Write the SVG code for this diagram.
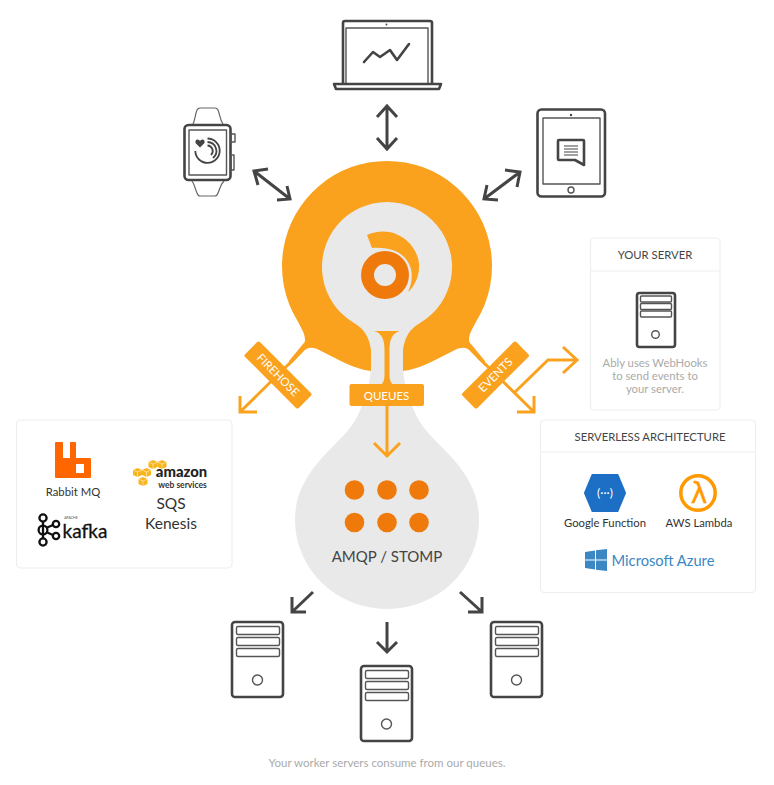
<svg xmlns="http://www.w3.org/2000/svg" width="774" height="785" viewBox="0 0 774 785">
<style>
text{font-family:"Lato","Noto Sans",sans-serif;text-anchor:middle}
.dk{fill:none;stroke:#444;stroke-width:2.6;stroke-linejoin:round;stroke-linecap:round}
.th{fill:none;stroke:#555;stroke-width:1.4;stroke-linejoin:round}
.ar{fill:none;stroke:#444;stroke-width:3}
.oa{fill:none;stroke:#faa21e;stroke-width:3}
.card{fill:#fff;stroke:#eee;stroke-width:1.2}
.bar{fill:#faa21e}
.bt{fill:#fff;font-size:11.500px}
.gr{fill:#aaa;font-size:11.300px}
.hd{fill:#444;font-size:11.300px}
.lb{fill:#333;font-size:11.300px}
</style>
<defs>
<g id="srv">
<rect x="1" y="1" width="51" height="75" rx="3" class="dk"/>
<rect x="5.500" y="5.500" width="43" height="8" rx="1.500" class="th"/>
<rect x="5.500" y="16.500" width="43" height="8" rx="1.500" class="th"/>
<rect x="5.500" y="27.500" width="43" height="8" rx="1.500" class="th"/>
<circle cx="26.500" cy="59" r="5" class="th"/>
</g>
<g id="cube">
<path d="M0 2L4.500 0L9 2V7L4.500 9L0 7Z" fill="#f8b51e"/>
<path d="M0 2L4.500 4L9 2M4.500 4V9" fill="none" stroke="#fff" stroke-width=".5"/>
</g>
</defs>
<rect width="774" height="785" fill="#fff"/>
<g id="blob">
<path d="M295 520C295 495 305 478 320 460C335 443 350 432 358 415C365 400 370 385 371 368L403 368C404 385 409 400 416 415C424 432 439 443 454 460C469 478 479 495 479 520A92 89 0 0 1 295 520Z" fill="#e9e9e9"/>
<path d="M297 320A105 105 0 1 1 477 320C473 328 469 333 469 340C469 342 470 343 471 344L485 361L485 366L471 352C466 346 460 347 451 352C435 360 420 369 403 371L371 371C354 369 339 360 323 352C314 347 308 346 303 352L289 366L289 361L303 344C304 343 305 342 305 340C305 333 301 328 297 320Z" fill="#faa21e"/>
<path d="M354 323A65 65 0 1 1 420 323C410 329 405 336 403 350L403 372L371 372L371 350C369 336 364 329 354 323Z" fill="#e9e9e9"/>
<path d="M374 331H400C392 333 389.500 340 389.500 350V375C389.500 380 391 383 393 385H381C383 383 384.500 380 384.500 375V350C384.500 340 382 333 374 331Z" fill="#faa21e"/>
</g>
<g id="logo">
<path fill-rule="evenodd" d="M385 251A24 24 0 1 1 385 299A24 24 0 1 1 385 251ZM385 264A11 11 0 1 0 385 286A11 11 0 1 0 385 264Z" fill="#ef7a0b"/>
<path d="M367 235C376 231 388 230 398 235C412 241 420 256 419 268C419 277 414 287 408 292C413 281 413 270 408 262C402 252 390 247 372 248Z" fill="#faa21e"/>
</g>
<g id="connectors">
<path d="M387 106V149M377 117L387 106L397 117M377 138L387 149L397 138" class="ar"/>
<path d="M254 171L290 199M268 169L254 171L258 185M277 200L290 199L287 186" class="ar"/>
<path d="M520 172L484 199M505 170L520 172L517 187M498 200L484 199L487 185" class="ar"/>
<path d="M313 592L292 612M292 597L292 612L306 612" class="ar"/>
<path d="M387 622V652M377 642L387 652L397 642" class="ar"/>
<path d="M460 592L482 612M482 597L482 612L468 612" class="ar"/>
<path d="M296 357L240 412M240 396V412H257" class="oa"/>
<path d="M478 357L534 412M534 396V412H517" class="oa"/>
<path d="M515 392L548 360H577M563 347L577 360L563 373" class="oa"/>
<path d="M387 405V456M374 443L387 456L400 443" class="oa"/>
</g>
<g id="laptop">
<path d="M343 83V23Q343 21 345 21H430Q432 21 432 23V83" class="dk"/>
<path d="M346 83V28H428V83" class="th"/>
<circle cx="386.500" cy="24.500" r="0.900" fill="#444"/>
<path d="M334 84H441L439 89H336Z" class="dk"/>
<path d="M364 62L373 52L380 57L390 50L397 60L409 44" class="dk" stroke-width="2"/>
</g>
<g id="watch">
<rect x="184.500" y="125" width="46" height="55" rx="4" class="dk"/>
<rect x="189" y="130" width="37.500" height="45" class="th"/>
<path d="M193 124C195 120 195 115 197 110Q198 108 200 108H215Q217 108 218 110C220 115 220 120 223 124M192 181C195 185 195 189 197 193Q198 196 200 196H215Q217 196 218 193C220 189 220 185 224 181" fill="none" stroke="#666" stroke-width="1.200"/>
<rect x="231" y="134" width="4" height="8" class="th"/>
<rect x="231" y="155" width="3" height="15" class="th"/>
<path d="M200 147.500L195.500 143Q195 139.500 197.500 139.500Q199.500 139.500 200 141Q200.500 139.500 202.500 139.500Q205 139.500 204.500 143Z" fill="#444"/>
<path d="M195.300 151A12.200 12.200 0 1 0 207.500 138.500M207.500 142A9 9 0 0 1 213 158M207.500 145.500A5.500 5.500 0 0 1 211 155" fill="none" stroke="#444" stroke-width="1.800"/>
</g>
<g id="tablet">
<rect x="537.500" y="109.500" width="67.500" height="87" rx="4" class="dk"/>
<rect x="543" y="118" width="57" height="66" class="th"/>
<circle cx="571" cy="115" r="1.200" fill="#444"/>
<circle cx="571" cy="190" r="3" class="th"/>
<path d="M558 141Q558 140 559 140H583Q584 140 584 141V165L575 160H559Q558 160 558 159Z" class="dk" stroke-width="2"/>
<path d="M564 146H578M564 149H578M564 152H578M564 155H578" fill="none" stroke="#444" stroke-width="1.200"/>
</g>
<g id="firehose">
<rect x="240" y="364.500" width="76" height="21" rx="2" class="bar" transform="rotate(45 278 375)"/>
<text x="278" y="379" class="bt" transform="rotate(45 278 375)">FIREHOSE</text>
</g>
<g id="events">
<rect x="457.500" y="364.500" width="76" height="21" rx="2" class="bar" transform="rotate(-45 495.500 375)"/>
<text x="495.500" y="379" class="bt" transform="rotate(-45 495.500 375)">EVENTS</text>
</g>
<g id="queues">
<rect x="349.500" y="384" width="74.500" height="22" rx="2" class="bar"/>
<text x="386.500" y="399.500" class="bt">QUEUES</text>
</g>
<g id="amqp">
<g fill="#ef7a0b">
<circle cx="354.500" cy="490" r="9.800"/><circle cx="387" cy="490" r="9.800"/><circle cx="419" cy="490" r="9.800"/>
<circle cx="354.500" cy="522.500" r="9.800"/><circle cx="387" cy="522.500" r="9.800"/><circle cx="419" cy="522.500" r="9.800"/>
</g>
<text x="387" y="562" fill="#444" font-size="15">AMQP / STOMP</text>
</g>
<g id="your-server">
<rect x="590.500" y="238" width="129.500" height="172" rx="4" class="card"/>
<path d="M591 271H720" stroke="#eee" fill="none"/>
<text x="655" y="259" class="hd">YOUR SERVER</text>
<rect x="637" y="293" width="38" height="54" rx="2.500" class="dk"/>
<rect x="640.500" y="296" width="31" height="6" rx="1" class="th"/>
<rect x="640.500" y="303.500" width="31" height="6" rx="1" class="th"/>
<rect x="640.500" y="311" width="31" height="6" rx="1" class="th"/>
<circle cx="655.500" cy="334.500" r="3.800" class="th"/>
<text x="655" y="367" class="gr">Ably uses WebHooks</text>
<text x="655" y="380" class="gr">to send events to</text>
<text x="655" y="393" class="gr">your server.</text>
</g>
<g id="serverless">
<rect x="540.500" y="420" width="215" height="172.500" rx="4" class="card"/>
<path d="M541 452H755" stroke="#eee" fill="none"/>
<text x="650" y="441" class="hd">SERVERLESS ARCHITECTURE</text>
<path d="M592.500 475H617.500L625 493L617.500 511H592.500L585 493Z" fill="#1c6fc4" stroke="#1c6fc4" stroke-width="2" stroke-linejoin="round"/>
<text x="605" y="497" fill="#fff" font-size="12">(···)</text>
<text x="605" y="527" class="lb">Google Function</text>
<circle cx="698" cy="493" r="17.200" fill="none" stroke="#f90" stroke-width="3.500"/>
<text x="699" y="503" fill="#f90" stroke="#f90" stroke-width=".4" font-size="28" style="font-family:'DejaVu Sans',sans-serif">λ</text>
<text x="699" y="527" class="lb">AWS Lambda</text>
<path d="M585 552L595 550.500V559.500H585ZM596 550.300L607 549V559.500H596ZM585 560.500H595V569.500L585 568ZM596 560.500H607V571L596 569.700Z" fill="#3a87c4"/>
<text x="663" y="566" fill="#3a87c4" font-size="14.700">Microsoft Azure</text>
</g>
<g id="brokers">
<rect x="16.500" y="420" width="215.500" height="148" rx="4" class="card"/>
<path d="M56 442H62Q63 442 63 443V458H70V443Q70 442 71 442H75Q76 442 76 443V458H90Q91 458 91 459V477Q91 478 90 478H56Q55 478 55 477V443Q55 442 56 442ZM76 464V473H84V464Z" fill-rule="evenodd" fill="#f60"/>
<text x="73" y="496" class="lb">Rabbit MQ</text>
<use href="#cube" x="148.500" y="460"/><use href="#cube" x="157.500" y="460"/>
<use href="#cube" x="133" y="468"/><use href="#cube" x="142" y="468"/><use href="#cube" x="138.500" y="477"/>
<text x="181.500" y="477" fill="#222" font-size="14.800" font-weight="900">amazon</text>
<text x="182.500" y="488" fill="#333" font-size="8.500" font-weight="700">web services</text>
<text x="171" y="509" fill="#333" font-size="15.500">SQS</text>
<text x="171" y="529" fill="#333" font-size="15.500">Kenesis</text>
<g fill="none" stroke="#111" stroke-width="2.300">
<path d="M43 521V539M46 528L53 525M46 532L53 535"/>
<circle cx="43" cy="518" r="3.600"/><circle cx="43" cy="530" r="4.400"/><circle cx="43" cy="542" r="3.600"/><circle cx="56" cy="524" r="3.200"/><circle cx="56" cy="536" r="3.200"/>
</g>
<text x="71" y="519" fill="#555" font-size="3.500">APACHE</text>
<text x="85" y="538" fill="#111" stroke="#111" stroke-width=".3" font-size="19">kafka</text>
</g>
<use id="worker-left" href="#srv" x="231" y="621"/>
<use id="worker-center" href="#srv" x="360" y="665"/>
<use id="worker-right" href="#srv" x="490" y="621"/>
<text x="387" y="767" class="gr" style="font-size:11.500px">Your worker servers consume from our queues.</text>
</svg>
